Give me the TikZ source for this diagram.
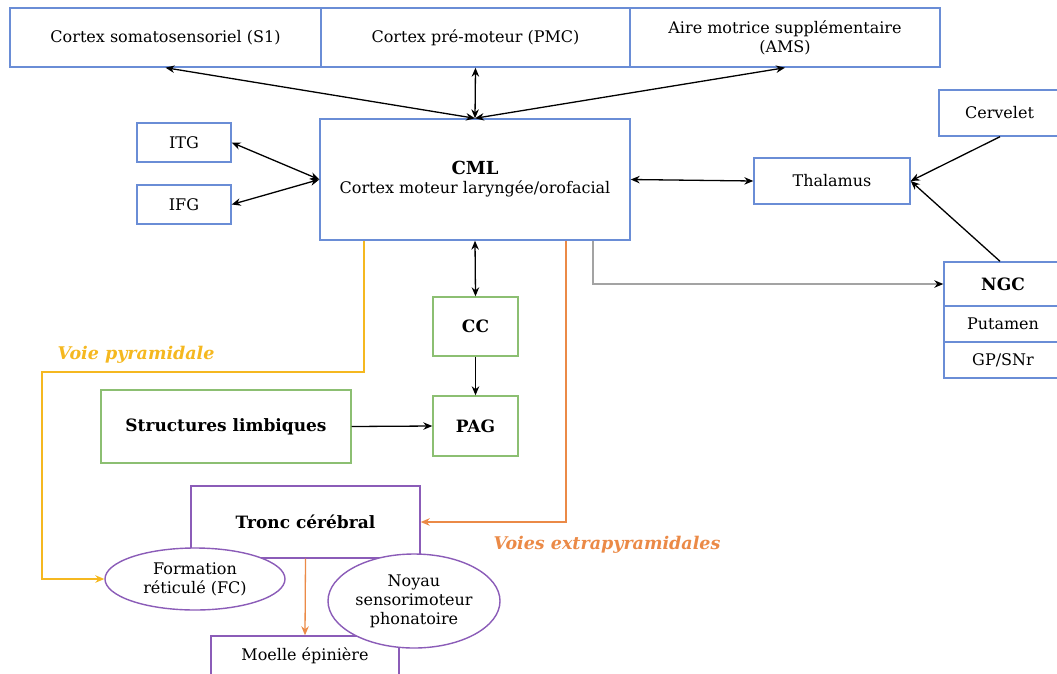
\documentclass[tikz,border=0pt]{standalone}
\usepackage{fontspec}
\setmainfont{DejaVu Serif}
\usetikzlibrary{arrows.meta,shapes.geometric}

\definecolor{boxblue}{HTML}{6A8DD6}
\definecolor{boxgreen}{HTML}{8CBF72}
\definecolor{boxpurple}{HTML}{8B5CB8}
\definecolor{pyrayellow}{HTML}{F5B820}
\definecolor{extraorange}{HTML}{EB8A47}
\definecolor{linkgray}{HTML}{A3A3A3}

\tikzset{
  base/.style={draw, line width=1.4pt, fill=white, align=center, inner sep=2pt,
    font=\fontsize{16}{19}\selectfont},
  heading/.style={font=\fontsize{17}{20}\selectfont\bfseries},
  bluebox/.style={base, draw=boxblue},
  greenbox/.style={base, draw=boxgreen},
  purplebox/.style={base, draw=boxpurple},
  purpleoval/.style={base, draw=boxpurple, ellipse, inner sep=0pt},
  tip/.tip={Stealth[length=9pt,width=7.5pt]},
  link/.style={line width=1.3pt, -tip},
  dlink/.style={line width=1.3pt, tip-tip},
  pathlabel/.style={font=\fontsize{17.5}{21}\selectfont\bfseries\itshape, anchor=west}
}

\begin{document}
\begin{tikzpicture}[x=1pt,y=-1pt]
\useasboundingbox (0,0) rectangle (1057,673);
\clip (0,0) rectangle (1057,673);

% cortical areas
\node[bluebox, minimum width=311pt, minimum height=59pt] (s1) at (165.5,37.5) {Cortex somatosensoriel (S1)};
\node[bluebox, minimum width=309pt, minimum height=59pt] (pmc) at (475.5,37.5) {Cortex pré-moteur (PMC)};
\node[bluebox, minimum width=310pt, minimum height=59pt] (ams) at (785,37.5) {Aire motrice supplémentaire\\(AMS)};

\node[bluebox, minimum width=310pt, minimum height=121pt] (cml) at (475,179.5) {{\fontsize{18}{21}\selectfont\bfseries CML}\\Cortex moteur laryngée/orofacial};
\node[bluebox, minimum width=94pt, minimum height=39pt] (itg) at (184,142.5) {ITG};
\node[bluebox, minimum width=94pt, minimum height=39pt] (ifg) at (184,204.5) {IFG};

% subcortical loop
\node[bluebox, minimum width=156pt, minimum height=46pt] (thal) at (832,181) {Thalamus};
\node[bluebox, minimum width=121pt, minimum height=46pt] (cerv) at (999.5,113) {Cervelet};
\node[bluebox, heading, minimum width=118pt, minimum height=44pt] (ngc) at (1003,284) {NGC};
\node[bluebox, minimum width=118pt, minimum height=36pt] (put) at (1003,324) {Putamen};
\node[bluebox, minimum width=118pt, minimum height=36pt] (gp) at (1003,360) {GP/SNr};

% limbic route
\node[greenbox, heading, minimum width=85pt, minimum height=59pt] (cc) at (475.5,326.5) {CC};
\node[greenbox, heading, minimum width=85pt, minimum height=60pt] (pag) at (475.5,426) {PAG};
\node[greenbox, heading, minimum width=250pt, minimum height=73pt] (limb) at (226,426.5) {Structures limbiques};

% brainstem and spinal cord
\node[purplebox, minimum width=188pt, minimum height=40pt] (moelle) at (305,656) {Moelle épinière};
\node[purplebox, heading, minimum width=229pt, minimum height=72pt] (tronc) at (305.5,522) {Tronc cérébral};
\node[purpleoval, minimum width=180pt, minimum height=62pt] (fc) at (195,579) {Formation\\réticulé (FC)};
\node[purpleoval, minimum width=172pt, minimum height=94pt] (noyau) at (414,601) {Noyau\\sensorimoteur\\phonatoire};

% cortical connections
\draw[dlink] (cml.north) -- (pmc.south);
\draw[dlink] (cml.north) -- (s1.south);
\draw[dlink] (cml.north) -- (ams.south);
\draw[dlink] (itg.east) -- (cml.west);
\draw[dlink] (ifg.east) -- (cml.west);
\draw[dlink] (cml.east) -- (thal.west);
\draw[link] (cerv.south -| 1000,0) -- (thal.east);
\draw[link] (ngc.north -| 1000,0) -- (thal.east);
\draw[line width=1.3pt, draw=linkgray, -{Stealth[length=9pt,width=7.5pt,color=black]}] (cml.south -| 593,0) |- (ngc.west);

% limbic connections
\draw[dlink] (cml.south) -- (cc.north);
\draw[link] (cc.south) -- (pag.north);
\draw[link] (limb.east) -- (pag.west);

% descending pathways
\coordinate (pyrbend) at (42,372);
\draw[line width=1.3pt, draw=pyrayellow, -{Stealth[length=9pt,width=7.5pt]}, pyrayellow] (cml.south -| 364,0) |- (pyrbend) |- (fc.west);
\node[pathlabel, text=pyrayellow] (pyrlabel) at (54,355) {Voie pyramidale};

\draw[line width=1.3pt, draw=extraorange, -{Stealth[length=9pt,width=7.5pt]}, extraorange] (cml.south -| 566,0) |- (tronc.east);
\node[pathlabel, text=extraorange] (extralabel) at (490,545) {Voies extrapyramidales};

\draw[line width=1.3pt, draw=extraorange, -{Stealth[length=9pt,width=7.5pt]}, extraorange] (tronc.south) -- (moelle.north);
\end{tikzpicture}
\end{document}
